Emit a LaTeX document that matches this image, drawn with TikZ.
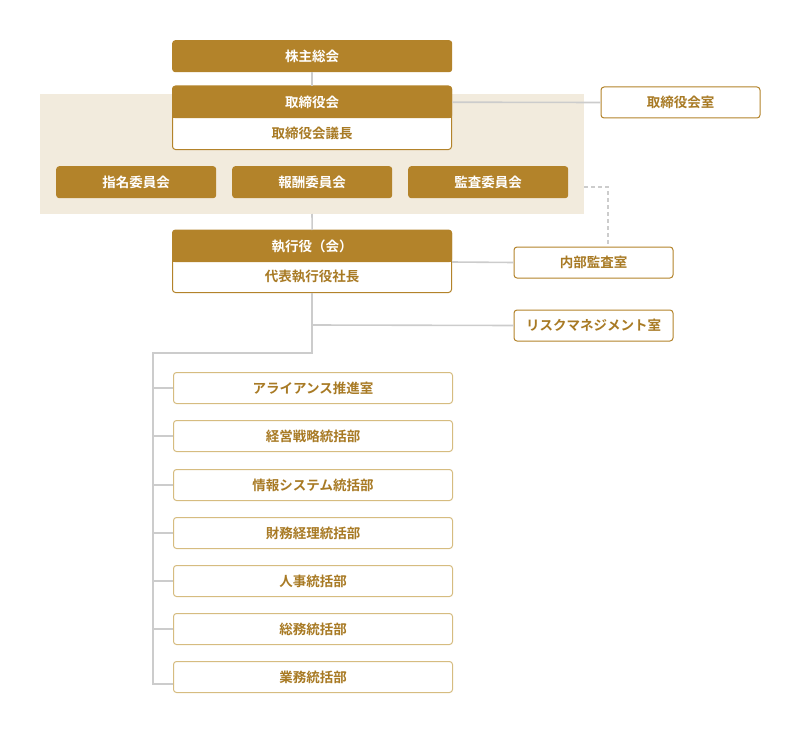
\documentclass[tikz,border=0pt]{standalone}
\usepackage{fontspec}
\setmainfont{Noto Sans CJK JP}[BoldFont={* Bold}]
\definecolor{gold}{HTML}{B3832A}
\definecolor{goldtxt}{HTML}{A87A24}
\definecolor{goldlight}{HTML}{D6BC80}
\definecolor{beige}{HTML}{F2EBDD}
\definecolor{conn}{HTML}{CCCCCC}
\tikzset{
  lbl/.style={font=\fontsize{13.5}{15}\selectfont\bfseries, inner sep=0pt},
  goldbox/.style={lbl, fill=gold, text=white, rounded corners=3pt, minimum height=32pt, anchor=north west},
  whitebox/.style={lbl, fill=white, draw=gold, line width=1pt, text=goldtxt, rounded corners=3pt, minimum height=31pt, anchor=north west},
  deptbox/.style={lbl, fill=white, draw=goldlight, line width=1pt, text=goldtxt, rounded corners=3pt, minimum height=31pt, minimum width=279pt, anchor=north west},
  connline/.style={draw=conn, line width=1.6pt},
  dashline/.style={draw=conn, line width=1.6pt, dash pattern=on 4pt off 3pt},
}
\begin{document}
\begin{tikzpicture}[x=1pt,y=-1pt]
\useasboundingbox (0,0) rectangle (800,733);
% background panel
\fill[beige] (40,94) rectangle (584,214);
% connector waypoints
\coordinate (split) at (312,353);
\coordinate (rail) at (153,353);
\coordinate (railend) at (153,684);
\coordinate (dashcorner) at (608,187);
\coordinate (panelright) at (584,187);
\coordinate (panelbottom) at (312,214);
\coordinate (riskbranch) at (312,325);

% top
\node[goldbox, minimum width=280pt] (agm) at (172,40) {株主総会};
% board
\draw[gold, fill=white, line width=1pt, rounded corners=3pt] (172.5,86) rectangle (451.5,149.5);
\node[goldbox, minimum width=280pt] (board) at (172,86) {取締役会};
\fill[gold] (172,110) rectangle (452,118);
\node[lbl, text=goldtxt] (chair) at (312,133) {取締役会議長};
% board office
\node[whitebox, minimum width=159pt] (boardoffice) at (600.5,86.5) {取締役会室};
% committees
\node[goldbox, minimum width=160pt] (nom) at (56,166) {指名委員会};
\node[goldbox, minimum width=160pt] (rem) at (232,166) {報酬委員会};
\node[goldbox, minimum width=160pt] (aud) at (408,166) {監査委員会};
% executive
\draw[gold, fill=white, line width=1pt, rounded corners=3pt] (172.5,230) rectangle (451.5,292.5);
\node[goldbox, minimum width=280pt] (exec) at (172,230) {執行役（会）};
\fill[gold] (172,254) rectangle (452,262);
\node[lbl, text=goldtxt] (ceo) at (312,277) {代表執行役社長};
% side offices
\node[whitebox, minimum width=159pt] (internal) at (513.5,246.5) {内部監査室};
\node[whitebox, minimum width=159pt] (risk) at (513.5,309.5) {リスクマネジメント室};
% departments
\node[deptbox] (d1) at (173,372) {アライアンス推進室};
\node[deptbox] (d2) at (173,420) {経営戦略統括部};
\node[deptbox] (d3) at (173,469) {情報システム統括部};
\node[deptbox] (d4) at (173,517) {財務経理統括部};
\node[deptbox] (d5) at (173,565) {人事統括部};
\node[deptbox] (d6) at (173,613) {総務統括部};
\node[deptbox] (d7) at (173,661) {業務統括部};

% connectors
\draw[connline] (agm.south) -- (board.north);
\draw[connline] (board.east) -- (boardoffice.west);
\draw[connline] (panelbottom) -- (exec.north);
\draw[dashline] (panelright) -- (dashcorner) -- (internal.north -| dashcorner);
\draw[connline] (452,262) -- (internal.west);
\draw[connline] (312,293) -- (split) -- (rail) -- (railend) -- (railend -| d7.west);
\draw[connline] (riskbranch) -- (risk.west);
\foreach \d in {d1,d2,d3,d4,d5,d6}{
  \draw[connline] (rail |- \d.west) -- (\d.west);
}
\end{tikzpicture}
\end{document}
